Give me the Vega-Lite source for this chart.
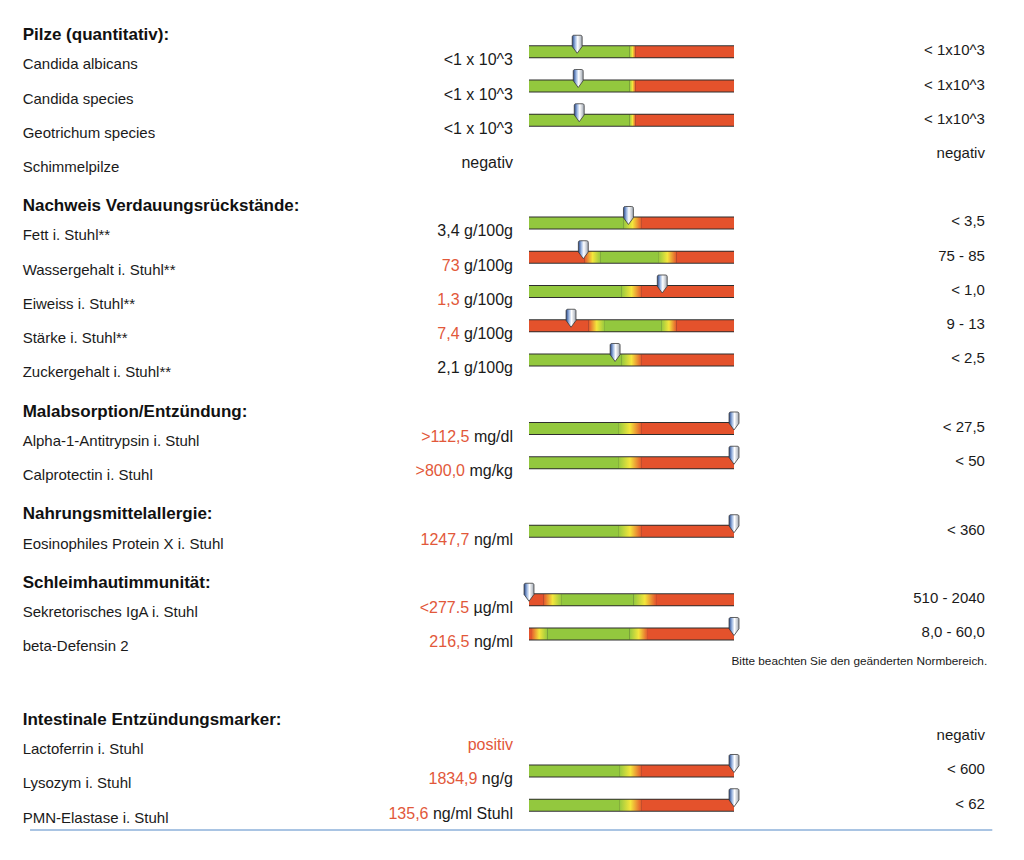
{
  "$schema": "https://vega.github.io/schema/vega-lite/v6.json",
  "width": 1024,
  "height": 860,
  "autosize": {"type": "fit", "contains": "padding"},
  "padding": 0,
  "background": "white",
  "config": {"view": {"stroke": null}, "text": {"font": "Liberation Sans"}},
  "datasets": {
    "rows": [
      {"n": 0, "kind": "header", "label": "Pilze (quantitativ):"},
      {"n": 1, "kind": "item", "label": "Candida albicans", "value": "<1 x 10^3", "unit": "", "flag": "normal", "ref": "< 1x10^3", "pos": 23.5},
      {"n": 2, "kind": "item", "label": "Candida species", "value": "<1 x 10^3", "unit": "", "flag": "normal", "ref": "< 1x10^3", "pos": 24},
      {"n": 3, "kind": "item", "label": "Geotrichum species", "value": "<1 x 10^3", "unit": "", "flag": "normal", "ref": "< 1x10^3", "pos": 24.5},
      {"n": 4, "kind": "item", "label": "Schimmelpilze", "value": "negativ", "unit": "", "flag": "normal", "ref": "negativ"},
      {"n": 5, "kind": "header", "label": "Nachweis Verdauungsrückstände:"},
      {"n": 6, "kind": "item", "label": "Fett i. Stuhl**", "value": "3,4", "unit": "g/100g", "flag": "normal", "ref": "< 3,5", "pos": 48.5},
      {"n": 7, "kind": "item", "label": "Wassergehalt i. Stuhl**", "value": "73", "unit": "g/100g", "flag": "high", "ref": "75 - 85", "pos": 26.5},
      {"n": 8, "kind": "item", "label": "Eiweiss i. Stuhl**", "value": "1,3", "unit": "g/100g", "flag": "high", "ref": "< 1,0", "pos": 65},
      {"n": 9, "kind": "item", "label": "Stärke i. Stuhl**", "value": "7,4", "unit": "g/100g", "flag": "high", "ref": "9 - 13", "pos": 20.5},
      {"n": 10, "kind": "item", "label": "Zuckergehalt i. Stuhl**", "value": "2,1", "unit": "g/100g", "flag": "normal", "ref": "< 2,5", "pos": 42},
      {"n": 11, "kind": "header", "label": "Malabsorption/Entzündung:"},
      {"n": 12, "kind": "item", "label": "Alpha-1-Antitrypsin i. Stuhl", "value": ">112,5", "unit": "mg/dl", "flag": "high", "ref": "< 27,5", "pos": 100},
      {"n": 13, "kind": "item", "label": "Calprotectin i. Stuhl", "value": ">800,0", "unit": "mg/kg", "flag": "high", "ref": "< 50", "pos": 100},
      {"n": 14, "kind": "header", "label": "Nahrungsmittelallergie:"},
      {"n": 15, "kind": "item", "label": "Eosinophiles Protein X i. Stuhl", "value": "1247,7", "unit": "ng/ml", "flag": "high", "ref": "< 360", "pos": 100},
      {"n": 16, "kind": "header", "label": "Schleimhautimmunität:"},
      {"n": 17, "kind": "item", "label": "Sekretorisches IgA i. Stuhl", "value": "<277.5", "unit": "µg/ml", "flag": "high", "ref": "510 - 2040", "pos": 0},
      {"n": 18, "kind": "item", "label": "beta-Defensin 2", "value": "216,5", "unit": "ng/ml", "flag": "high", "ref": "8,0 - 60,0", "pos": 100, "note": "Bitte beachten Sie den geänderten Normbereich."},
      {"n": 20, "kind": "header", "label": "Intestinale Entzündungsmarker:"},
      {"n": 21, "kind": "item", "label": "Lactoferrin i. Stuhl", "value": "positiv", "unit": "", "flag": "high", "ref": "negativ"},
      {"n": 22, "kind": "item", "label": "Lysozym i. Stuhl", "value": "1834,9", "unit": "ng/g", "flag": "high", "ref": "< 600", "pos": 100},
      {"n": 23, "kind": "item", "label": "PMN-Elastase i. Stuhl", "value": "135,6", "unit": "ng/ml Stuhl", "flag": "high", "ref": "< 62", "pos": 100}
    ],
    "zones": [
      {"n": 1, "a": 0, "b": 49, "k": "g"}, {"n": 1, "a": 49, "b": 52, "k": "gyr"}, {"n": 1, "a": 52, "b": 100, "k": "r"},
      {"n": 2, "a": 0, "b": 49, "k": "g"}, {"n": 2, "a": 49, "b": 52, "k": "gyr"}, {"n": 2, "a": 52, "b": 100, "k": "r"},
      {"n": 3, "a": 0, "b": 49, "k": "g"}, {"n": 3, "a": 49, "b": 52, "k": "gyr"}, {"n": 3, "a": 52, "b": 100, "k": "r"},
      {"n": 6, "a": 0, "b": 46, "k": "g"}, {"n": 6, "a": 46, "b": 55, "k": "gyr"}, {"n": 6, "a": 55, "b": 100, "k": "r"},
      {"n": 7, "a": 0, "b": 27, "k": "r"}, {"n": 7, "a": 27, "b": 35, "k": "ryg"}, {"n": 7, "a": 35, "b": 63, "k": "g"}, {"n": 7, "a": 63, "b": 72, "k": "gyr"}, {"n": 7, "a": 72, "b": 100, "k": "r"},
      {"n": 8, "a": 0, "b": 45, "k": "g"}, {"n": 8, "a": 45, "b": 55, "k": "gyr"}, {"n": 8, "a": 55, "b": 100, "k": "r"},
      {"n": 9, "a": 0, "b": 29, "k": "r"}, {"n": 9, "a": 29, "b": 37, "k": "ryg"}, {"n": 9, "a": 37, "b": 64.5, "k": "g"}, {"n": 9, "a": 64.5, "b": 72, "k": "gyr"}, {"n": 9, "a": 72, "b": 100, "k": "r"},
      {"n": 10, "a": 0, "b": 45, "k": "g"}, {"n": 10, "a": 45, "b": 55, "k": "gyr"}, {"n": 10, "a": 55, "b": 100, "k": "r"},
      {"n": 12, "a": 0, "b": 43.5, "k": "g"}, {"n": 12, "a": 43.5, "b": 55, "k": "gyr"}, {"n": 12, "a": 55, "b": 100, "k": "r"},
      {"n": 13, "a": 0, "b": 43.5, "k": "g"}, {"n": 13, "a": 43.5, "b": 55, "k": "gyr"}, {"n": 13, "a": 55, "b": 100, "k": "r"},
      {"n": 15, "a": 0, "b": 43.5, "k": "g"}, {"n": 15, "a": 43.5, "b": 55, "k": "gyr"}, {"n": 15, "a": 55, "b": 100, "k": "r"},
      {"n": 17, "a": 0, "b": 7, "k": "r"}, {"n": 17, "a": 7, "b": 16, "k": "ryg"}, {"n": 17, "a": 16, "b": 51, "k": "g"}, {"n": 17, "a": 51, "b": 62, "k": "gyr"}, {"n": 17, "a": 62, "b": 100, "k": "r"},
      {"n": 18, "a": 0, "b": 1, "k": "r"}, {"n": 18, "a": 1, "b": 9, "k": "ryg"}, {"n": 18, "a": 9, "b": 49, "k": "g"}, {"n": 18, "a": 49, "b": 58, "k": "gyr"}, {"n": 18, "a": 58, "b": 100, "k": "r"},
      {"n": 22, "a": 0, "b": 44, "k": "g"}, {"n": 22, "a": 44, "b": 55, "k": "gyr"}, {"n": 22, "a": 55, "b": 100, "k": "r"},
      {"n": 23, "a": 0, "b": 44, "k": "g"}, {"n": 23, "a": 44, "b": 55, "k": "gyr"}, {"n": 23, "a": 55, "b": 100, "k": "r"}
    ]
  },
  "layer": [
    {
      "data": {"name": "rows"},
      "transform": [{"filter": "isValid(datum.pos)"}],
      "mark": {"type": "rect", "fill": "#2e2e2e", "yOffset": -19, "y2Offset": -6},
      "encoding": {
        "x": {"datum": 0, "type": "quantitative", "scale": {"domain": [-258.05, 241.46], "nice": false, "zero": false}, "axis": null},
        "x2": {"datum": 100},
        "y": {"field": "n", "type": "quantitative", "scale": {"domain": [-0.876, 24.234], "nice": false, "zero": false, "reverse": true}, "axis": null},
        "y2": {"field": "n"}
      }
    },
    {
      "data": {"name": "zones"},
      "transform": [{"filter": "datum.k === 'g'"}],
      "mark": {"type": "rect", "fill": "#93c83e", "yOffset": -18, "y2Offset": -7},
      "encoding": {
        "x": {"field": "a", "type": "quantitative", "scale": {"domain": [-258.05, 241.46], "nice": false, "zero": false}, "axis": null},
        "x2": {"field": "b"},
        "y": {"field": "n", "type": "quantitative", "scale": {"domain": [-0.876, 24.234], "nice": false, "zero": false, "reverse": true}, "axis": null},
        "y2": {"field": "n"}
      }
    },
    {
      "data": {"name": "zones"},
      "transform": [{"filter": "datum.k === 'r'"}],
      "mark": {"type": "rect", "fill": "#e4522c", "yOffset": -18, "y2Offset": -7},
      "encoding": {
        "x": {"field": "a", "type": "quantitative", "scale": {"domain": [-258.05, 241.46], "nice": false, "zero": false}, "axis": null},
        "x2": {"field": "b"},
        "y": {"field": "n", "type": "quantitative", "scale": {"domain": [-0.876, 24.234], "nice": false, "zero": false, "reverse": true}, "axis": null},
        "y2": {"field": "n"}
      }
    },
    {
      "data": {"name": "zones"},
      "transform": [{"filter": "datum.k === 'gyr'"}],
      "mark": {"type": "rect", "yOffset": -18, "y2Offset": -7,
        "fill": {"gradient": "linear", "x1": 0, "x2": 1, "y1": 0, "y2": 0,
          "stops": [{"offset": 0, "color": "#93c83e"}, {"offset": 0.5, "color": "#f4e63c"}, {"offset": 1, "color": "#e4522c"}]}},
      "encoding": {
        "x": {"field": "a", "type": "quantitative", "scale": {"domain": [-258.05, 241.46], "nice": false, "zero": false}, "axis": null},
        "x2": {"field": "b"},
        "y": {"field": "n", "type": "quantitative", "scale": {"domain": [-0.876, 24.234], "nice": false, "zero": false, "reverse": true}, "axis": null},
        "y2": {"field": "n"}
      }
    },
    {
      "data": {"name": "zones"},
      "transform": [{"filter": "datum.k === 'ryg'"}],
      "mark": {"type": "rect", "yOffset": -18, "y2Offset": -7,
        "fill": {"gradient": "linear", "x1": 0, "x2": 1, "y1": 0, "y2": 0,
          "stops": [{"offset": 0, "color": "#e4522c"}, {"offset": 0.5, "color": "#f4e63c"}, {"offset": 1, "color": "#93c83e"}]}},
      "encoding": {
        "x": {"field": "a", "type": "quantitative", "scale": {"domain": [-258.05, 241.46], "nice": false, "zero": false}, "axis": null},
        "x2": {"field": "b"},
        "y": {"field": "n", "type": "quantitative", "scale": {"domain": [-0.876, 24.234], "nice": false, "zero": false, "reverse": true}, "axis": null},
        "y2": {"field": "n"}
      }
    },
    {
      "data": {"name": "rows"},
      "transform": [{"filter": "isValid(datum.pos)"}],
      "mark": {"type": "point", "filled": true, "size": 324, "yOffset": -20, "opacity": 1,
        "shape": "M-0.55,-0.8 C-0.55,-0.95 -0.47,-1 -0.33,-1 L0.33,-1 C0.47,-1 0.55,-0.95 0.55,-0.8 L0.55,0.25 L0,1 L-0.55,0.25 Z",
        "stroke": "#3a3a3a", "strokeWidth": 0.8,
        "fill": {"gradient": "linear", "x1": 0, "x2": 1, "y1": 0, "y2": 0,
          "stops": [{"offset": 0, "color": "#24468a"}, {"offset": 0.3, "color": "#9fb9e2"}, {"offset": 0.55, "color": "#ffffff"}, {"offset": 1, "color": "#9ea6b2"}]}},
      "encoding": {
        "x": {"field": "pos", "type": "quantitative", "scale": {"domain": [-258.05, 241.46], "nice": false, "zero": false}, "axis": null},
        "y": {"field": "n", "type": "quantitative", "scale": {"domain": [-0.876, 24.234], "nice": false, "zero": false, "reverse": true}, "axis": null}
      }
    },
    {
      "data": {"name": "rows"},
      "transform": [{"filter": "datum.kind === 'header'"}],
      "mark": {"type": "text", "align": "left", "baseline": "middle", "fontSize": 17, "fontWeight": "bold", "color": "#111111", "dy": 5},
      "encoding": {
        "x": {"datum": -247, "type": "quantitative", "scale": {"domain": [-258.05, 241.46], "nice": false, "zero": false}, "axis": null},
        "y": {"field": "n", "type": "quantitative", "scale": {"domain": [-0.876, 24.234], "nice": false, "zero": false, "reverse": true}, "axis": null},
        "text": {"field": "label"}
      }
    },
    {
      "data": {"name": "rows"},
      "transform": [{"filter": "datum.kind === 'item'"}],
      "mark": {"type": "text", "align": "left", "baseline": "middle", "fontSize": 15, "color": "#1a1a1a"},
      "encoding": {
        "x": {"datum": -247, "type": "quantitative", "scale": {"domain": [-258.05, 241.46], "nice": false, "zero": false}, "axis": null},
        "y": {"field": "n", "type": "quantitative", "scale": {"domain": [-0.876, 24.234], "nice": false, "zero": false, "reverse": true}, "axis": null},
        "text": {"field": "label"}
      }
    },
    {
      "data": {"name": "rows"},
      "transform": [{"filter": "datum.kind === 'item'"}],
      "mark": {"type": "text", "align": "right", "baseline": "middle", "fontSize": 16, "dy": -4,
        "dx": {"expr": "datum.unit === 'g/100g' ? -53.4 : datum.unit === 'mg/dl' ? -43.6 : datum.unit === 'mg/kg' ? -48 : datum.unit === 'ng/ml' ? -43.6 : datum.unit === 'µg/ml' ? -43.9 : datum.unit === 'ng/g' ? -35.6 : datum.unit === 'ng/ml Stuhl' ? -84.5 : 0"}},
      "encoding": {
        "x": {"datum": -7.8, "type": "quantitative", "scale": {"domain": [-258.05, 241.46], "nice": false, "zero": false}, "axis": null},
        "y": {"field": "n", "type": "quantitative", "scale": {"domain": [-0.876, 24.234], "nice": false, "zero": false, "reverse": true}, "axis": null},
        "text": {"field": "value"},
        "color": {"condition": {"test": "datum.flag === 'high'", "value": "#e2583a"}, "value": "#1a1a1a"}
      }
    },
    {
      "data": {"name": "rows"},
      "transform": [{"filter": "datum.kind === 'item' && datum.unit !== ''"}],
      "mark": {"type": "text", "align": "right", "baseline": "middle", "fontSize": 16, "dy": -4, "color": "#1a1a1a"},
      "encoding": {
        "x": {"datum": -7.8, "type": "quantitative", "scale": {"domain": [-258.05, 241.46], "nice": false, "zero": false}, "axis": null},
        "y": {"field": "n", "type": "quantitative", "scale": {"domain": [-0.876, 24.234], "nice": false, "zero": false, "reverse": true}, "axis": null},
        "text": {"field": "unit"}
      }
    },
    {
      "data": {"name": "rows"},
      "transform": [{"filter": "datum.kind === 'item'"}],
      "mark": {"type": "text", "align": "right", "baseline": "middle", "fontSize": 15, "dy": -14, "color": "#1a1a1a"},
      "encoding": {
        "x": {"datum": 222.4, "type": "quantitative", "scale": {"domain": [-258.05, 241.46], "nice": false, "zero": false}, "axis": null},
        "y": {"field": "n", "type": "quantitative", "scale": {"domain": [-0.876, 24.234], "nice": false, "zero": false, "reverse": true}, "axis": null},
        "text": {"field": "ref"}
      }
    },
    {
      "data": {"name": "rows"},
      "transform": [{"filter": "isValid(datum.note)"}],
      "mark": {"type": "text", "align": "right", "baseline": "middle", "fontSize": 11.8, "dy": 14.5, "color": "#1a1a1a"},
      "encoding": {
        "x": {"datum": 223.5, "type": "quantitative", "scale": {"domain": [-258.05, 241.46], "nice": false, "zero": false}, "axis": null},
        "y": {"field": "n", "type": "quantitative", "scale": {"domain": [-0.876, 24.234], "nice": false, "zero": false, "reverse": true}, "axis": null},
        "text": {"field": "note"}
      }
    },
    {
      "data": {"values": [{"line": "footer"}]},
      "mark": {"type": "rule", "color": "#8db1da", "strokeWidth": 1.5},
      "encoding": {
        "x": {"datum": -243.4, "type": "quantitative", "scale": {"domain": [-258.05, 241.46], "nice": false, "zero": false}, "axis": null},
        "x2": {"datum": 226},
        "y": {"datum": 23.36, "type": "quantitative", "scale": {"domain": [-0.876, 24.234], "nice": false, "zero": false, "reverse": true}, "axis": null}
      }
    }
  ]
}
